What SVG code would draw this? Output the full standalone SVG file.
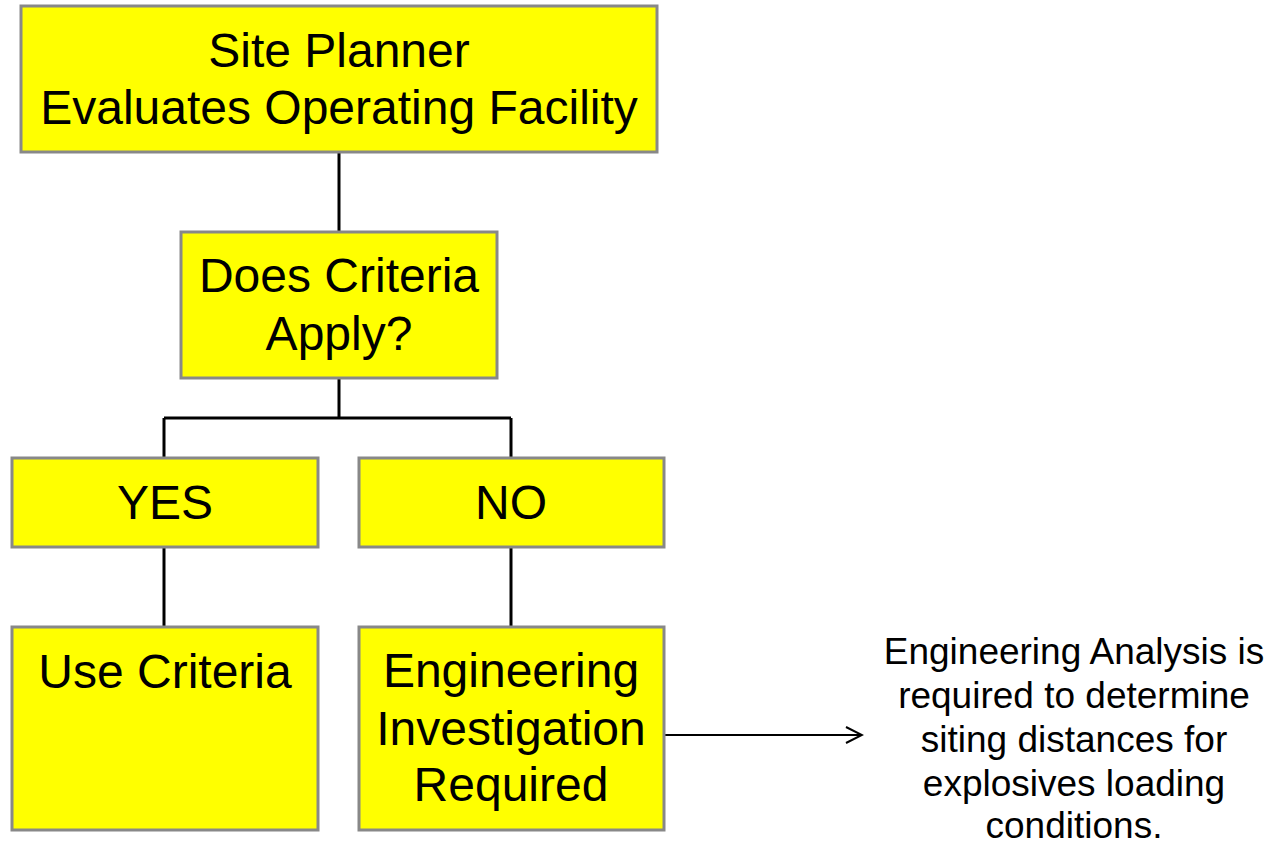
<svg xmlns="http://www.w3.org/2000/svg" width="1270" height="843" viewBox="0 0 1270 843">
<style>
.box{fill:#ffff00;stroke:#888888;stroke-width:3}
.t{font-family:"Liberation Sans",Arial,sans-serif;font-size:48px;fill:#000;text-anchor:middle}
.n{font-family:"Liberation Sans",Arial,sans-serif;font-size:37px;fill:#000;text-anchor:middle}
.c{stroke:#000;stroke-width:3;fill:none}
.a{stroke:#000;stroke-width:2;fill:none}
</style>
<defs>
<marker id="arr" markerWidth="20" markerHeight="20" refX="18" refY="10" orient="auto" markerUnits="userSpaceOnUse">
<path d="M2,2 L18,10 L2,18" fill="none" stroke="#000" stroke-width="2"/>
</marker>
</defs>
<rect width="1270" height="843" fill="#fff"/>
<g id="connectors">
<path class="c" d="M339,152 V232"/>
<path class="c" d="M339,378 V418 M164,418 H511 M164,418 V458 M511,418 V458"/>
<path class="c" d="M164,547 V627"/>
<path class="c" d="M511,547 V627"/>
<path class="a" d="M664,735 H862" marker-end="url(#arr)"/>
</g>
<g id="node-site-planner">
<rect class="box" x="21" y="6" width="636" height="146"/>
<text class="t" x="339" y="67">Site Planner</text>
<text class="t" x="339" y="124">Evaluates Operating Facility</text>
</g>
<g id="node-criteria">
<rect class="box" x="181" y="232" width="316" height="146"/>
<text class="t" x="339" y="292">Does Criteria</text>
<text class="t" x="339" y="350">Apply?</text>
</g>
<g id="node-yes">
<rect class="box" x="12" y="458" width="306" height="89"/>
<text class="t" x="165" y="519">YES</text>
</g>
<g id="node-no">
<rect class="box" x="359" y="458" width="305" height="89"/>
<text class="t" x="511" y="519">NO</text>
</g>
<g id="node-use-criteria">
<rect class="box" x="12" y="627" width="306" height="203"/>
<text class="t" x="165" y="688">Use Criteria</text>
</g>
<g id="node-engineering">
<rect class="box" x="359" y="627" width="305" height="203"/>
<text class="t" x="511" y="687">Engineering</text>
<text class="t" x="511" y="745">Investigation</text>
<text class="t" x="511" y="801">Required</text>
</g>
<g id="node-note">
<text class="n" x="1074" y="664">Engineering Analysis is</text>
<text class="n" x="1074" y="708">required to determine</text>
<text class="n" x="1074" y="752">siting distances for</text>
<text class="n" x="1074" y="796">explosives loading</text>
<text class="n" x="1074" y="838">conditions.</text>
</g>
</svg>
